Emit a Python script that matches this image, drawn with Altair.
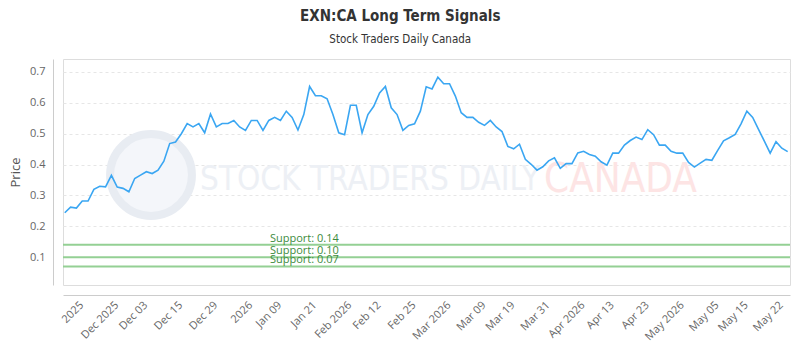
import altair as alt
import pandas as pd

# ---- data ----
prices = [
    0.244, 0.262, 0.259, 0.282, 0.282, 0.320, 0.330, 0.328, 0.365, 0.327,
    0.323, 0.312, 0.355, 0.366, 0.377, 0.371, 0.382, 0.411, 0.468, 0.473,
    0.500, 0.533, 0.522, 0.533, 0.503, 0.564, 0.522, 0.533, 0.533, 0.543,
    0.522, 0.511, 0.543, 0.543, 0.511, 0.543, 0.553, 0.543, 0.573, 0.553,
    0.512, 0.562, 0.653, 0.623, 0.623, 0.613, 0.562, 0.503, 0.497, 0.592,
    0.592, 0.503, 0.562, 0.589, 0.632, 0.653, 0.584, 0.562, 0.511, 0.527,
    0.532, 0.573, 0.652, 0.645, 0.683, 0.662, 0.662, 0.622, 0.568, 0.553,
    0.553, 0.537, 0.527, 0.543, 0.522, 0.507, 0.459, 0.451, 0.466, 0.417,
    0.401, 0.382, 0.393, 0.412, 0.422, 0.388, 0.403, 0.403, 0.438, 0.443,
    0.433, 0.427, 0.409, 0.398, 0.437, 0.437, 0.463, 0.478, 0.489, 0.481,
    0.513, 0.497, 0.463, 0.463, 0.443, 0.437, 0.437, 0.407, 0.392, 0.405,
    0.417, 0.414, 0.446, 0.477, 0.487, 0.498, 0.532, 0.573, 0.553, 0.514,
    0.476, 0.437, 0.474, 0.453, 0.442,
]
tick_index = [3, 9, 14, 20, 26, 32, 37, 43, 49, 54, 60, 66, 72, 77, 83, 89,
              94, 100, 106, 112, 117, 123]
tick_labels = ["2025", "Dec 2025", "Dec 03", "Dec 15", "Dec 29", "2026",
               "Jan 09", "Jan 21", "Feb 2026", "Feb 12", "Feb 25", "Mar 2026",
               "Mar 09", "Mar 19", "Mar 31", "Apr 2026", "Apr 13", "Apr 23",
               "May 2026", "May 05", "May 15", "May 22"]
y_ticks = [0.1, 0.2, 0.3, 0.4, 0.5, 0.6, 0.7]
support_levels = [0.14, 0.10, 0.07]
support_labels = ["Support: 0.14", "Support: 0.10", "Support: 0.07"]

df = pd.DataFrame({"i": list(range(len(prices))), "price": prices})
sup = pd.DataFrame({"level": support_levels, "label": support_labels})

label_expr = "{}[indexof({}, datum.value)]".format(
    "[" + ",".join("'%s'" % t for t in tick_labels) + "]",
    "[" + ",".join(str(t) for t in tick_index) + "]",
)

FONT = "Open Sans"
COND = "Liberation Sans Narrow, DejaVu Sans Condensed, Roboto, sans-serif"

xscale = alt.Scale(domain=[-0.3, 124.4], nice=False, zero=False)
yscale = alt.Scale(domain=[0.01, 0.742], nice=False, zero=False)

x_axis = alt.Axis(values=tick_index, labelExpr=label_expr, title=None,
                  labelAngle=315, labelAlign="right", labelBaseline="top",
                  labelPadding=4, labelOffset=-5, labelFontSize=11,
                  labelColor="#666666", labelFont=FONT, ticks=False, grid=False,
                  offset=10, domainColor="#cccccc", labelOverlap=False,
                  labelFlush=False)
y_axis = alt.Axis(values=y_ticks, format=".1f", title="Price", titleFont=FONT,
                  titleFontSize=13, titleFontWeight="normal", titleColor="#555555",
                  titlePadding=7, labelFontSize=11, labelColor="#666666",
                  labelFont=FONT, labelPadding=8, ticks=False, offset=10,
                  labelOverlap=False, labelFlush=False, domainColor="#cccccc",
                  grid=True, gridDash=[3, 3], gridColor="#e6e6e6")

# watermark
wm_logo = alt.Chart(pd.DataFrame({"a": [0]})).mark_point(
    shape="circle", size=6700, filled=True, fill="#f4f6fa", stroke="#e8ecf2",
    strokeWidth=8, opacity=1
).encode(x=alt.value(88), y=alt.value(116))
wm_text = alt.Chart(pd.DataFrame({"a": [0]})).mark_text(
    text="STOCK TRADERS DAILY", font=COND, fontSize=33, color="#edf0f5",
    align="left", baseline="alphabetic"
).encode(x=alt.value(137), y=alt.value(131))
wm_canada = alt.Chart(pd.DataFrame({"a": [0]})).mark_text(
    text="CANADA", font=COND, fontSize=40, color="#fde4e4",
    align="left", baseline="alphabetic"
).encode(x=alt.value(481), y=alt.value(133))

line = alt.Chart(df).mark_line(color="#3aa6f2", strokeWidth=1.6).encode(
    x=alt.X("i:Q", scale=xscale, axis=x_axis),
    y=alt.Y("price:Q", scale=yscale, axis=y_axis),
)

rules = alt.Chart(sup).mark_rule(color="#94d094", strokeWidth=2).encode(
    y=alt.Y("level:Q", scale=yscale, axis=y_axis),
)
rule_text = alt.Chart(sup).mark_text(
    align="left", baseline="alphabetic", dy=-3, font=FONT, fontSize=11,
    color="#3d8b3d"
).encode(
    x=alt.value(207),
    y=alt.Y("level:Q", scale=yscale, axis=y_axis),
    text="label:N",
)

chart = alt.layer(wm_logo, wm_text, wm_canada, rules, line, rule_text).properties(
    width=727, height=226,
    title=alt.TitleParams(
        text="EXN:CA Long Term Signals", subtitle="Stock Traders Daily Canada",
        font=COND, fontSize=15, fontWeight="bold", color="#333333",
        subtitleFont=COND, subtitleFontSize=11.5, subtitleColor="#333333",
        anchor="middle", frame="bounds", offset=14, subtitlePadding=10,
    ),
    autosize=alt.AutoSizeParams(type="none"),
    padding={"left": 63, "top": 59, "right": 10, "bottom": 65},
).configure_view(stroke="#888888", strokeWidth=1).configure_axisY(
    labelOverlap=False
).configure(background="white")

chart.save("out.html", embed_options={"renderer": "svg", "actions": False})
